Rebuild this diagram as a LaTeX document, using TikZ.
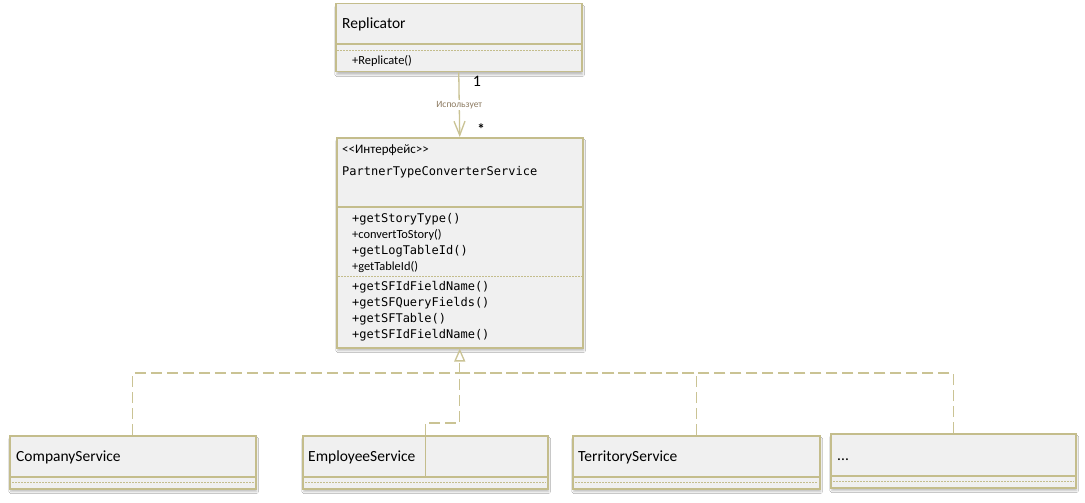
\documentclass[tikz,border=0pt]{standalone}
\usepackage{fontspec}
\setmainfont{Carlito}
\newfontfamily\codefont{DejaVu Sans Mono}
\usepackage{tikz}
\usetikzlibrary{arrows.meta,shadows.blur}

\definecolor{umlborder}{RGB}{196,189,140}
\definecolor{umlconn}{RGB}{202,195,148}
\definecolor{umlfill}{RGB}{240,240,240}
\definecolor{umlnote}{RGB}{140,122,96}

\tikzset{
  classname/.style={font=\fontsize{15.5}{18}\selectfont},
  member/.style={font=\fontsize{12.4}{14}\selectfont},
  codemember/.style={font=\codefont\fontsize{12}{14}\selectfont},
  divider/.style={draw=umlborder,line width=1.5pt},
  compartment/.style={draw=umlborder,line width=0.8pt,dash pattern=on 2pt off 1pt},
}

\begin{document}
\begin{tikzpicture}[x=1pt,y=-1pt]
\useasboundingbox[fill=white] (0,0) rectangle (1085,503);
% class boxes
\begin{scope}[every node/.style={draw=umlborder,fill=umlfill,line width=1.5pt,
              anchor=north west,inner sep=0pt,
              blur shadow={shadow xshift=1pt,shadow yshift=-3pt,shadow blur steps=5,shadow opacity=25}}]
    \node[minimum width=246pt,minimum height=68pt] (repl) at (335,3) {};
    \node[minimum width=246pt,minimum height=210pt] (iface) at (336,137) {};
    \node[minimum width=246pt,minimum height=53pt] (comp) at (9,435) {};
    \node[minimum width=245pt,minimum height=53pt] (emp) at (302,435) {};
    \node[minimum width=247pt,minimum height=53pt] (terr) at (572,435) {};
    \node[minimum width=245pt,minimum height=54pt] (more) at (830,433) {};
\end{scope}
% compartments
\coordinate (replhead) at (0,44);
\coordinate (ifacehead) at (0,207);
\coordinate (ifacesplit) at (0,276);
\coordinate (subhead) at (0,477);
\draw[divider] (repl.west |- replhead) -- (repl.east |- replhead);
\draw[compartment] ([xshift=2pt]repl.west |- 0,50) -- ([xshift=-2pt]repl.east |- 0,50);
\draw[divider] (iface.west |- ifacehead) -- (iface.east |- ifacehead);
\draw[compartment] ([xshift=2pt]iface.west |- ifacesplit) -- ([xshift=-2pt]iface.east |- ifacesplit);
\foreach \cls in {comp,emp,terr} {
    \draw[divider] (\cls.west |- subhead) -- (\cls.east |- subhead);
    \draw[compartment] ([xshift=3pt]\cls.west |- 0,482.5) -- ([xshift=-3pt]\cls.east |- 0,482.5);
}
\draw[divider] (more.west |- 0,476) -- (more.east |- 0,476);
\draw[compartment] ([xshift=3pt]more.west |- 0,481.5) -- ([xshift=-3pt]more.east |- 0,481.5);
% texts
\begin{scope}[every node/.style={anchor=base west,inner sep=0pt}]
    \node[classname] (replname) at (342,29) {Replicator};
    \node[member] (replop) at (352,65) {+Replicate()};
    \node[font=\fontsize{13}{15}\selectfont] (stereo) at (342,153.5) {{<}{<}Интерфейс{>}{>}};
    \node[codemember] (ifacename) at (342,175) {PartnerTypeConverterService};
    \node[codemember] (opa) at (352,222) {+getStoryType()};
    \node[member] (opb) at (352,238) {+convertToStory()};
    \node[codemember] (opc) at (352,254) {+getLogTableId()};
    \node[member] (opd) at (352,270) {+getTableId()};
    \node[codemember] (ope) at (352,290) {+getSFIdFieldName()};
    \node[codemember] (opf) at (352,306) {+getSFQueryFields()};
    \node[codemember] (opg) at (352,322) {+getSFTable()};
    \node[codemember] (oph) at (352,338) {+getSFIdFieldName()};
    \node[classname] (compname) at (16,461) {CompanyService};
    \node[classname] (empname) at (308,461) {EmployeeService};
    \node[classname] (terrname) at (578,461) {TerritoryService};
    \node[classname] (morename) at (837,460) {...};
    \node[font=\fontsize{16}{18}\selectfont,anchor=base] (multone) at (477,86) {1};
    \node[font=\fontsize{15}{18}\selectfont\bfseries,anchor=center] (multmany) at (481,129) {*};
\end{scope}
% connectors
\coordinate (busy) at (0,373);
\coordinate (bus) at (iface.south |- busy);
\begin{scope}[every path/.style={draw=umlconn,line width=1.3pt}]
    \path[-{Straight Barb[length=14pt,width=11pt]}] (repl.south) -- node[pos=0.5,fill=white,text=umlnote,
          font=\fontsize{9.5}{10}\selectfont,inner sep=1pt] (useslabel) {Использует} (iface.north);
    \path[dash pattern=on 11pt off 5pt] (comp.north) |- (bus);
    \path[dash pattern=on 11pt off 5pt] (terr.north) |- (bus);
    \path[dash pattern=on 11pt off 5pt] (more.north) |- (bus);
    \path[dash pattern=on 11pt off 5pt,-{Triangle[open,length=13pt,width=11pt]}]
          (emp.north) -- ++(0,-12) -| (iface.south);
    \path[line width=1.5pt,draw=umlborder] (emp.north) -- (emp.north |- subhead);
\end{scope}
\end{tikzpicture}
\end{document}
